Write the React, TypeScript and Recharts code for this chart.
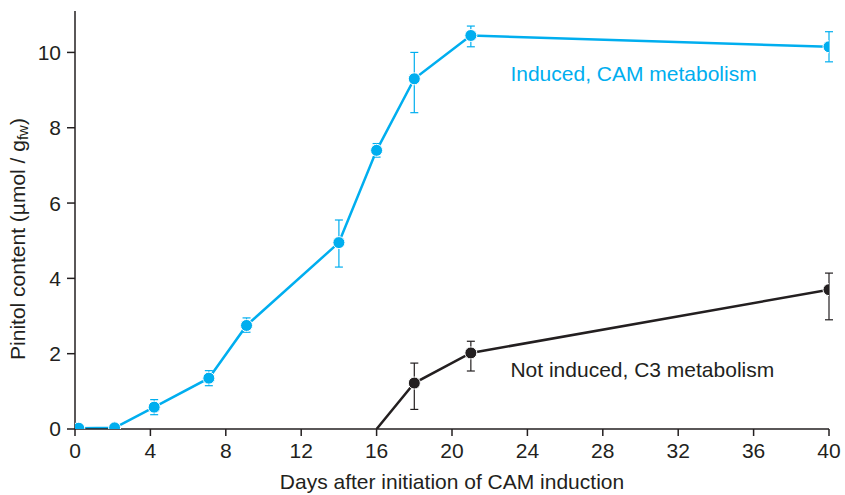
import { ErrorBar, Label, Line, LineChart, ReferenceDot, XAxis, YAxis } from "recharts";

const blueDays = [0.2, 2.1, 4.2, 7.1, 9.1, 14, 16, 18, 21, 40];
const blueValues = [0.02, 0.03, 0.58, 1.35, 2.75, 4.95, 7.4, 9.3, 10.45, 10.15];
const blueErrLow = [null, null, 0.2, 0.2, 0.18, 0.65, 0.18, 0.9, 0.3, 0.4];
const blueErrHigh = [null, null, 0.2, 0.2, 0.2, 0.6, 0.18, 0.7, 0.25, 0.4];

const blackDays = [16, 18, 21, 40];
const blackValues = [0, 1.22, 2.02, 3.7];
const blackErrLow = [null, 0.7, 0.48, 0.8];
const blackErrHigh = [null, 0.53, 0.31, 0.44];
const blackMarked = [false, true, true, true];

const xTicks = [0, 4, 8, 12, 16, 20, 24, 28, 32, 36, 40];
const yTicks = [0, 2, 4, 6, 8, 10];

const BLUE = "#00aeef";
const INK = "#231f20";
const FONT = "'Liberation Sans', Arial, Helvetica, sans-serif";
const FS = 21;

const build = (days: number[], values: number[], low: (number | null)[], high: (number | null)[]) =>
  days.map((day, i) => ({
    day,
    value: values[i],
    err: low[i] == null ? undefined : [low[i], high[i]],
  }));

const blueData = build(blueDays, blueValues, blueErrLow, blueErrHigh);
const blackData = build(blackDays, blackValues, blackErrLow, blackErrHigh).map((d, i) => ({ ...d, marked: blackMarked[i] }));

function YTitle({ viewBox }: any) {
  const cx = 17;
  const cy = viewBox.y + viewBox.height / 2 + 19;
  return (
    <text x={cx} y={cy} transform={`rotate(-90, ${cx}, ${cy})`} textAnchor="middle" dominantBaseline="central" fill={INK} fontSize={FS} fontFamily={FONT}>
      Pinitol content (µmol / g
      <tspan fontSize={15} dy={5}>fw</tspan>
      <tspan dy={-5}>)</tspan>
    </text>
  );
}

export default function App() {
  const tick = { fill: INK, fontSize: FS, fontFamily: FONT };
  return (
    <div style={{ position: "absolute", left: 0, top: 0, width: 845, height: 495, background: "#fff" }}>
      <LineChart width={845} height={495} margin={{ top: 11, right: 16, bottom: 22, left: 0 }}>
        <XAxis
          type="number"
          dataKey="day"
          domain={[0, 40]}
          ticks={xTicks}
          allowDataOverflow
          tick={tick}
          tickSize={7}
          tickMargin={7}
          height={44}
          stroke={INK}
          strokeWidth={1.5}
        >
          <Label value="Days after initiation of CAM induction" position="insideBottom" offset={-16} fill={INK} fontSize={FS} fontFamily={FONT} />
        </XAxis>
        <YAxis
          type="number"
          domain={[0, 11.1]}
          ticks={yTicks}
          allowDataOverflow
          tick={tick}
          tickSize={8}
          tickMargin={6}
          width={75}
          stroke={INK}
          strokeWidth={1.5}
        >
          <Label content={<YTitle />} />
        </YAxis>
        <Line
          data={blackData}
          dataKey="value"
          stroke={INK}
          strokeWidth={2.5}
          isAnimationActive={false}
          dot={(p: any) =>
            p.payload.marked ? <circle key={p.index} cx={p.cx} cy={p.cy} r={6} fill={INK} stroke="#fff" strokeWidth={1} /> : <g key={p.index} />
          }
        >
          <ErrorBar dataKey="err" direction="y" width={4} stroke={INK} strokeWidth={1.2} />
        </Line>
        <Line
          data={blueData}
          dataKey="value"
          stroke={BLUE}
          strokeWidth={2.5}
          isAnimationActive={false}
          dot={{ r: 6, fill: BLUE, stroke: "#fff", strokeWidth: 1 }}
        >
          <ErrorBar dataKey="err" direction="y" width={4} stroke={BLUE} strokeWidth={1.2} />
        </Line>
        <ReferenceDot x={23.1} y={9.45} r={0} fill="none" stroke="none" label={{ value: "Induced, CAM metabolism", position: "right", offset: 0, fill: BLUE, fontSize: FS, fontFamily: FONT }} />
        <ReferenceDot x={23.1} y={1.59} r={0} fill="none" stroke="none" label={{ value: "Not induced, C3 metabolism", position: "right", offset: 0, fill: INK, fontSize: FS, fontFamily: FONT }} />
      </LineChart>
    </div>
  );
}
